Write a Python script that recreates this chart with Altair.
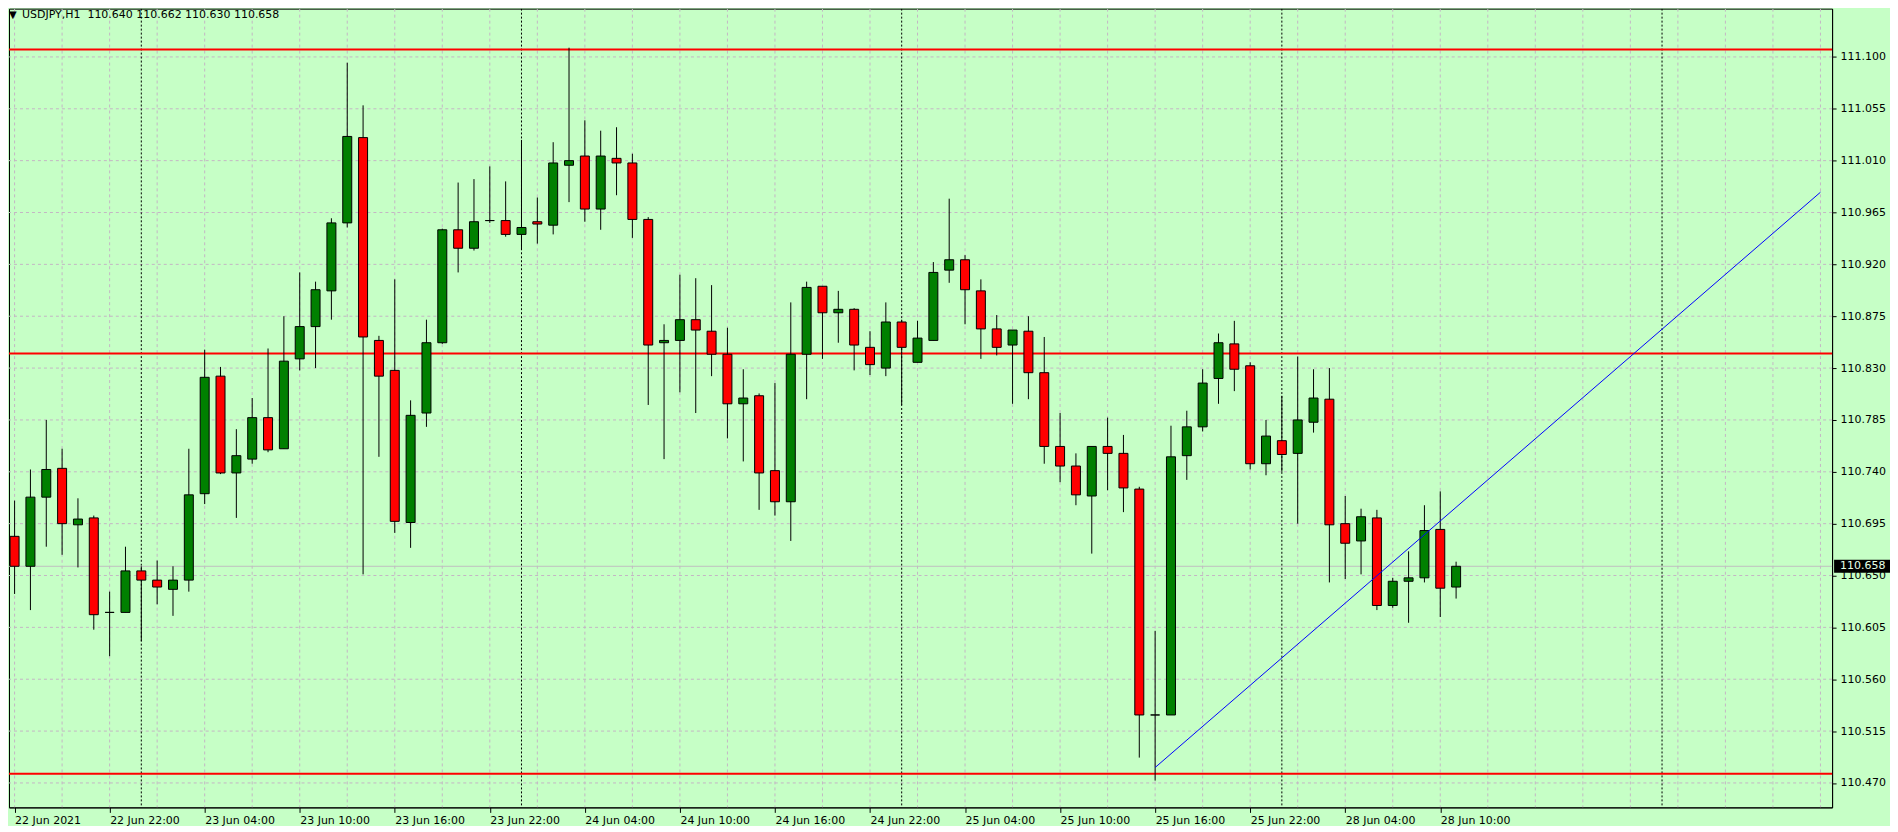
import json
import altair as alt
import pandas as pd

# ---------------- data ----------------
symbol = "USDJPY,H1"
bar_index = list(range(92))  # 22 Jun 16:00 ... 28 Jun 11:00 (H1 bars)
opens = [110.684, 110.658, 110.718, 110.743, 110.694, 110.700, 110.618, 110.618, 110.654, 110.646,
         110.638, 110.646, 110.721, 110.823, 110.739, 110.751, 110.787, 110.760, 110.838, 110.866,
         110.897, 110.956, 111.030, 110.854, 110.828, 110.696, 110.791, 110.852, 110.950, 110.934,
         110.958, 110.958, 110.946, 110.957, 110.954, 111.006, 111.014, 110.968, 111.012, 111.008,
         110.959, 110.852, 110.854, 110.872, 110.862, 110.842, 110.799, 110.806, 110.741, 110.714,
         110.842, 110.901, 110.878, 110.881, 110.848, 110.830, 110.870, 110.835, 110.854, 110.915,
         110.924, 110.897, 110.864, 110.850, 110.862, 110.826, 110.762, 110.745, 110.719, 110.762,
         110.756, 110.725, 110.529, 110.529, 110.754, 110.779, 110.821, 110.851, 110.832, 110.747,
         110.767, 110.756, 110.783, 110.803, 110.695, 110.680, 110.700, 110.624, 110.645, 110.648,
         110.690, 110.640]
highs = [110.715, 110.742, 110.785, 110.760, 110.717, 110.702, 110.636, 110.675, 110.658, 110.663,
         110.658, 110.760, 110.846, 110.831, 110.777, 110.804, 110.847, 110.875, 110.913, 110.905,
         110.960, 111.095, 111.058, 110.858, 110.907, 110.802, 110.872, 110.951, 110.991, 110.994,
         111.005, 110.992, 111.028, 110.978, 111.026, 111.108, 111.045, 111.036, 111.039, 111.016,
         110.961, 110.868, 110.911, 110.908, 110.902, 110.865, 110.829, 110.808, 110.817, 110.887,
         110.905, 110.901, 110.897, 110.882, 110.862, 110.887, 110.872, 110.871, 110.922, 110.977,
         110.928, 110.907, 110.876, 110.863, 110.875, 110.857, 110.791, 110.756, 110.762, 110.787,
         110.772, 110.727, 110.602, 110.780, 110.793, 110.829, 110.860, 110.871, 110.835, 110.785,
         110.806, 110.840, 110.829, 110.830, 110.719, 110.708, 110.707, 110.648, 110.671, 110.711,
         110.723, 110.662]
lows = [110.634, 110.620, 110.675, 110.668, 110.657, 110.603, 110.580, 110.618, 110.593, 110.625,
        110.615, 110.636, 110.712, 110.738, 110.700, 110.747, 110.757, 110.760, 110.828, 110.830,
        110.872, 110.952, 110.651, 110.753, 110.687, 110.674, 110.779, 110.851, 110.913, 110.932,
        110.956, 110.944, 110.933, 110.938, 110.946, 110.974, 110.957, 110.950, 110.980, 110.943,
        110.798, 110.751, 110.809, 110.791, 110.823, 110.769, 110.749, 110.707, 110.702, 110.680,
        110.803, 110.838, 110.852, 110.828, 110.824, 110.823, 110.798, 110.835, 110.854, 110.904,
        110.868, 110.838, 110.841, 110.799, 110.803, 110.747, 110.731, 110.711, 110.669, 110.724,
        110.705, 110.492, 110.472, 110.529, 110.733, 110.775, 110.799, 110.810, 110.742, 110.737,
        110.740, 110.695, 110.774, 110.644, 110.647, 110.651, 110.620, 110.622, 110.609, 110.644,
        110.614, 110.630]
closes = [110.658, 110.718, 110.742, 110.695, 110.699, 110.616, 110.618, 110.654, 110.646, 110.640,
          110.646, 110.720, 110.822, 110.739, 110.754, 110.787, 110.759, 110.836, 110.866, 110.898,
          110.956, 111.031, 110.857, 110.823, 110.697, 110.789, 110.852, 110.950, 110.934, 110.957,
          110.958, 110.946, 110.952, 110.955, 111.008, 111.010, 110.968, 111.014, 111.008, 110.959,
          110.850, 110.854, 110.872, 110.863, 110.842, 110.799, 110.804, 110.739, 110.714, 110.842,
          110.900, 110.878, 110.881, 110.850, 110.833, 110.870, 110.848, 110.856, 110.913, 110.924,
          110.898, 110.864, 110.848, 110.863, 110.826, 110.762, 110.745, 110.720, 110.762, 110.756,
          110.726, 110.529, 110.529, 110.753, 110.779, 110.817, 110.852, 110.829, 110.747, 110.771,
          110.755, 110.785, 110.804, 110.694, 110.678, 110.701, 110.624, 110.645, 110.648, 110.689,
          110.639, 110.658]

x_tick_bars = [0, 6, 12, 18, 24, 30, 36, 42, 48, 54, 60, 66, 72, 78, 84, 90]
x_tick_labels = ["22 Jun 2021", "22 Jun 22:00", "23 Jun 04:00", "23 Jun 10:00", "23 Jun 16:00",
                 "23 Jun 22:00", "24 Jun 04:00", "24 Jun 10:00", "24 Jun 16:00", "24 Jun 22:00",
                 "25 Jun 04:00", "25 Jun 10:00", "25 Jun 16:00", "25 Jun 22:00", "28 Jun 04:00",
                 "28 Jun 10:00"]
price_ticks = [110.470, 110.515, 110.560, 110.605, 110.650, 110.695, 110.740, 110.785, 110.830,
               110.875, 110.920, 110.965, 111.010, 111.055, 111.100]
grid_bars = list(range(0, 115, 3))
day_separator_bars = [8, 32, 56, 80, 104]
level_prices = [111.1064, 110.8426, 110.4780]
trend_bars = [72, 114]
trend_prices = [110.4834, 110.9826]
current_price = 110.658

# ---------------- styles ----------------
BG = "#C6FFC6"
GRID = "#C4B6C4"
UP = "#008000"
DOWN = "#FF0000"
FONT = "DejaVu Sans"
W, H = 1826, 800

xscale = alt.Scale(domain=[-0.0375, 114.42], nice=False, zero=False)
yscale = alt.Scale(domain=[110.4488, 111.1419], nice=False, zero=False)

label_expr = json.dumps(x_tick_labels) + "[round(datum.value / 6)]"
xaxis = alt.Axis(values=x_tick_bars, labelExpr=label_expr, labelAlign="left", labelFlush=False,
                 labelOverlap=False, tickSize=5, tickColor="black", domainColor="black",
                 labelColor="black", labelFont=FONT, labelFontSize=11, labelPadding=2,
                 grid=False, title=None, labelBaseline="top")
yaxis = alt.Axis(orient="right", values=price_ticks, format=".3f", tickSize=4, tickColor="black",
                 domainColor="black", labelColor="black", labelFont=FONT, labelFontSize=11,
                 labelPadding=4, grid=False, title=None, labelOverlap=False)


def X(field):
    return alt.X(field, type="quantitative", scale=xscale, axis=xaxis)


def Y(field):
    return alt.Y(field, type="quantitative", scale=yscale, axis=yaxis)


candles = pd.DataFrame({"i": bar_index, "o": opens, "h": highs, "l": lows, "c": closes})
candles["dir"] = ["up" if c >= o else "down" for o, c in zip(opens, closes)]

hgrid = alt.Chart(pd.DataFrame({"p": price_ticks})).mark_rule(
    color=GRID, strokeDash=[3, 3], strokeWidth=1).encode(y=Y("p"))
vgrid = alt.Chart(pd.DataFrame({"b": grid_bars})).mark_rule(
    color=GRID, strokeDash=[3, 3], strokeWidth=1, clip=True).encode(x=X("b"))
separators = alt.Chart(pd.DataFrame({"b": day_separator_bars})).mark_rule(
    color="black", strokeDash=[2, 2], strokeWidth=1, clip=True).encode(x=X("b"))
cur_line = alt.Chart(pd.DataFrame({"p": [current_price]})).mark_rule(
    color="#C0C0C0", strokeWidth=1).encode(y=Y("p"))
levels = alt.Chart(pd.DataFrame({"p": level_prices})).mark_rule(
    color="#FF0000", strokeWidth=2).encode(y=Y("p"))

wicks = alt.Chart(candles).mark_rule(color="black", strokeWidth=1, clip=True).encode(
    x=X("i"), y=Y("l"), y2="h")
bodies = alt.Chart(candles).mark_bar(width=9, orient="vertical", stroke="black", strokeWidth=1,
                                     clip=True).encode(
    x=X("i"), y=Y("o"), y2="c",
    color=alt.Color("dir:N", scale=alt.Scale(domain=["up", "down"], range=[UP, DOWN]), legend=None))

trend = alt.Chart(pd.DataFrame({"b": trend_bars, "p": trend_prices})).mark_line(
    color="#0000FF", strokeWidth=1, clip=True).encode(x=X("b"), y=Y("p"))

last = candles.iloc[-1]
nb = "\u00a0"
title_text = f"{symbol}{nb}{nb}{last.o:.3f} {last.h:.3f} {last.l:.3f} {last.c:.3f}"
title_df = pd.DataFrame({"t": [title_text]})
tri = alt.Chart(pd.DataFrame({"t": ["\u25BC"]})).mark_text(
    align="left", baseline="middle", font=FONT, fontSize=10, color="black").encode(
    text="t:N", x=alt.value(0), y=alt.value(6))
title = alt.Chart(title_df).mark_text(
    align="left", baseline="middle", font=FONT, fontSize=11, color="black").encode(
    text="t:N", x=alt.value(13), y=alt.value(6))

price_df = pd.DataFrame({"p": [current_price], "t": [f"{current_price:.3f}"]})
price_box = alt.Chart(price_df).mark_tick(
    orient="horizontal", size=56, thickness=13, color="black", opacity=1, clip=False).encode(
    y=Y("p"), x=alt.value(W + 30))
price_txt = alt.Chart(price_df).mark_text(
    align="left", baseline="middle", font=FONT, fontSize=11, color="#E6FFE6", clip=False).encode(
    y=Y("p"), x=alt.value(W + 8), text="t:N")

chart = alt.layer(
    hgrid, vgrid, separators, cur_line, levels, wicks, bodies, trend, tri, title, price_box, price_txt
).properties(
    width=W, height=H, padding=0, background=BG
).configure_view(
    fill=BG, stroke="black", strokeWidth=1
)

chart.save("out.html", embed_options={"renderer": "svg", "actions": False})
